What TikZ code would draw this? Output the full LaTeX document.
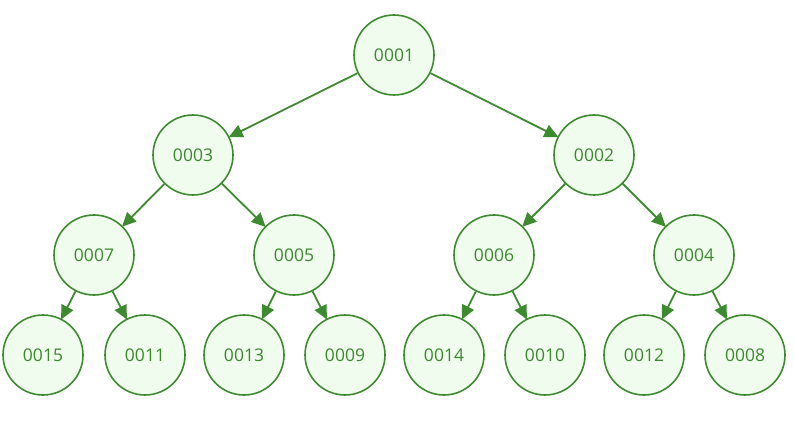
\documentclass[tikz,border=0pt]{standalone}
\usepackage{fontspec}
\setmainfont{Open Sans}
\usetikzlibrary{arrows.meta}
\definecolor{gstroke}{HTML}{3D8B2F}
\definecolor{gfill}{HTML}{F0FCEE}
\definecolor{gtext}{HTML}{3A8A2C}
\tikzset{
  tnode/.style={circle, draw=gstroke, fill=gfill, line width=1.6pt, minimum size=80pt, inner sep=0pt,
    text=gtext, font=\fontsize{17.5}{20}\selectfont},
  tedge/.style={draw=gstroke, line width=1.8pt, -{Triangle[length=14pt,width=13pt]}, shorten >=-1pt}
}
\begin{document}
\begin{tikzpicture}[x=1pt,y=-1pt]
\useasboundingbox (0,0) rectangle (794,430);
\node[tnode] (n1) at (394,55) {0001};
\node[tnode] (n3) at (193,155) {0003};
\node[tnode] (n2) at (594,155) {0002};
\node[tnode] (n7) at (94,255) {0007};
\node[tnode] (n5) at (294,255) {0005};
\node[tnode] (n6) at (494,255) {0006};
\node[tnode] (n4) at (694,255) {0004};
\node[tnode] (n15) at (43,355) {0015};
\node[tnode] (n11) at (145,355) {0011};
\node[tnode] (n13) at (244,355) {0013};
\node[tnode] (n9) at (345,355) {0009};
\node[tnode] (n14) at (444,355) {0014};
\node[tnode] (n10) at (545,355) {0010};
\node[tnode] (n12) at (644,355) {0012};
\node[tnode] (n8) at (745,355) {0008};
\draw[tedge] (n1) -- (n3);
\draw[tedge] (n1) -- (n2);
\draw[tedge] (n3) -- (n7);
\draw[tedge] (n3) -- (n5);
\draw[tedge] (n2) -- (n6);
\draw[tedge] (n2) -- (n4);
\draw[tedge] (n7) -- (n15);
\draw[tedge] (n7) -- (n11);
\draw[tedge] (n5) -- (n13);
\draw[tedge] (n5) -- (n9);
\draw[tedge] (n6) -- (n14);
\draw[tedge] (n6) -- (n10);
\draw[tedge] (n4) -- (n12);
\draw[tedge] (n4) -- (n8);
\end{tikzpicture}
\end{document}
